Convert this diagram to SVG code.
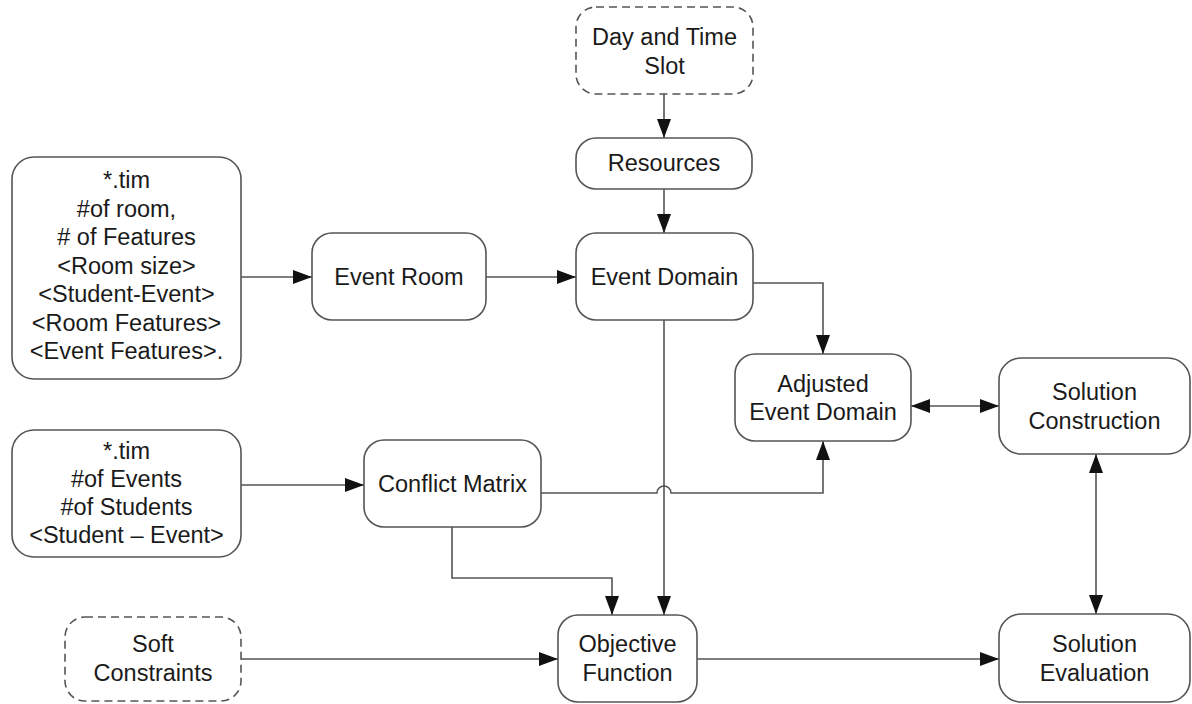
<svg xmlns="http://www.w3.org/2000/svg" width="1192" height="704" viewBox="0 0 1192 704">
<defs>
<marker id="ah" markerUnits="userSpaceOnUse" markerWidth="19" markerHeight="14" refX="19" refY="7" orient="auto-start-reverse"><path d="M0,0 L19,7 L0,14 z" fill="#111"/></marker>
<style>
.box{fill:#fff;stroke:#555;stroke-width:1.6}
.dash{fill:#fff;stroke:#555;stroke-width:1.6;stroke-dasharray:8 5}
.t{font-family:"Liberation Sans",Arial,sans-serif;font-size:23.5px;fill:#1a1a1a;text-anchor:middle}
.c{fill:none;stroke:#555;stroke-width:1.6}
</style>
</defs>
<rect width="1192" height="704" fill="#fff"/>
<g id="connectors">
<path class="c" d="M664,94 V138" marker-end="url(#ah)"/>
<path class="c" d="M664,189 V233" marker-end="url(#ah)"/>
<path class="c" d="M241,277 H312" marker-end="url(#ah)"/>
<path class="c" d="M486,277 H576" marker-end="url(#ah)"/>
<path class="c" d="M753,283 H823 V354" marker-end="url(#ah)"/>
<path class="c" d="M911,406 H999" marker-start="url(#ah)" marker-end="url(#ah)"/>
<path class="c" d="M241,485 H364" marker-end="url(#ah)"/>
<path class="c" d="M541,493 H657 A7,7 0 0 1 671,493 H823 V441" marker-end="url(#ah)"/>
<path class="c" d="M664,320 V615" marker-end="url(#ah)"/>
<path class="c" d="M452,527 V578 H612 V615" marker-end="url(#ah)"/>
<path class="c" d="M241,659 H558" marker-end="url(#ah)"/>
<path class="c" d="M697,659 H999" marker-end="url(#ah)"/>
<path class="c" d="M1096,454 V614" marker-start="url(#ah)" marker-end="url(#ah)"/>
</g>
<g id="day-time-slot">
<rect class="dash" x="576" y="7" width="177" height="87" rx="20"/>
<text class="t" x="664.5" y="45">Day and Time</text>
<text class="t" x="664.5" y="74">Slot</text>
</g>
<g id="resources">
<rect class="box" x="576" y="138" width="176" height="51" rx="20"/>
<text class="t" x="664" y="171">Resources</text>
</g>
<g id="input-rooms">
<rect class="box" x="12" y="157" width="229" height="222" rx="22"/>
<text class="t" x="126.5" y="188">*.tim</text>
<text class="t" x="126.5" y="216.5">#of room,</text>
<text class="t" x="126.5" y="245"># of Features</text>
<text class="t" x="126.5" y="273.5">&lt;Room size&gt;</text>
<text class="t" x="126.5" y="302">&lt;Student-Event&gt;</text>
<text class="t" x="126.5" y="330.5">&lt;Room Features&gt;</text>
<text class="t" x="126.5" y="359">&lt;Event Features&gt;.</text>
</g>
<g id="event-room">
<rect class="box" x="312" y="233" width="174" height="87" rx="20"/>
<text class="t" x="399" y="285">Event Room</text>
</g>
<g id="event-domain">
<rect class="box" x="576" y="233" width="177" height="87" rx="20"/>
<text class="t" x="664.5" y="285">Event Domain</text>
</g>
<g id="adjusted-event-domain">
<rect class="box" x="735" y="354" width="176" height="87" rx="20"/>
<text class="t" x="823" y="392">Adjusted</text>
<text class="t" x="823" y="420">Event Domain</text>
</g>
<g id="solution-construction">
<rect class="box" x="999" y="358" width="191" height="96" rx="22"/>
<text class="t" x="1094.5" y="400">Solution</text>
<text class="t" x="1094.5" y="429">Construction</text>
</g>
<g id="input-events">
<rect class="box" x="12" y="430" width="229" height="127" rx="22"/>
<text class="t" x="126.5" y="459">*.tim</text>
<text class="t" x="126.5" y="487">#of Events</text>
<text class="t" x="126.5" y="515">#of Students</text>
<text class="t" x="126.5" y="543">&lt;Student – Event&gt;</text>
</g>
<g id="conflict-matrix">
<rect class="box" x="364" y="440" width="177" height="87" rx="20"/>
<text class="t" x="452.5" y="492">Conflict Matrix</text>
</g>
<g id="soft-constraints">
<rect class="dash" x="65" y="617" width="176" height="84" rx="20"/>
<text class="t" x="153" y="652">Soft</text>
<text class="t" x="153" y="681">Constraints</text>
</g>
<g id="objective-function">
<rect class="box" x="558" y="615" width="139" height="87" rx="20"/>
<text class="t" x="627.5" y="652">Objective</text>
<text class="t" x="627.5" y="681">Function</text>
</g>
<g id="solution-evaluation">
<rect class="box" x="999" y="614" width="191" height="88" rx="22"/>
<text class="t" x="1094.5" y="652">Solution</text>
<text class="t" x="1094.5" y="681">Evaluation</text>
</g>
</svg>
